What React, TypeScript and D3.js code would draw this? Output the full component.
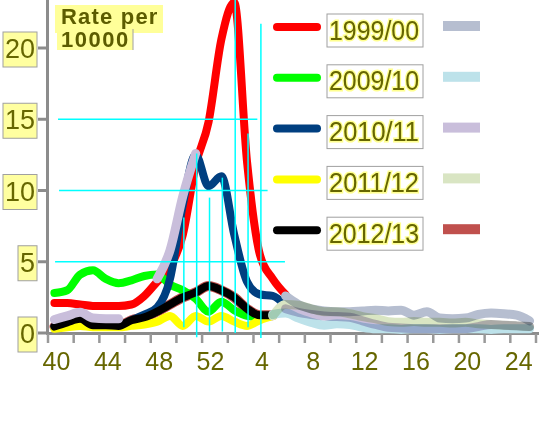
import React from 'react';
import * as d3 from 'd3';

// weeks of the season, week 40 to week 25 of the next year
const weeks = [40, 41, 42, 43, 44, 45, 46, 47, 48, 49, 50, 51, 52, 1, 2, 3, 4, 5, 6, 7, 8, 9, 10, 11, 12, 13, 14, 15, 16, 17, 18, 19, 20, 21, 22, 23, 24, 25];
const weekLabels = [40, 44, 48, 52, 4, 8, 12, 16, 20, 24];
const yTicks = [0, 5, 10, 15, 20];
const seasons = ['1999/00', '2009/10', '2010/11', '2011/12', '2012/13'];
const _ = null;

// main series (rate per 10000)
const rate9900 = [2.1, 2.1, 2.0, 1.9, 1.9, 1.9, 2.0, 2.6, 3.6, 4.6, 6.9, 11.8, 14.8, 20.6, 23.2, 12.0, 5.5, 3.8, 2.7];
const rate0910 = [2.8, 3.0, 4.1, 4.4, 3.8, 3.5, 3.7, 4.0, 4.1, 3.4, 3.0, 2.4, 1.5, 2.2, 1.6, 1.2, 1.1];
const rate1011 = [0.45, 0.75, 1.0, 0.55, 0.55, 0.5, 0.9, 1.3, 1.8, 3.8, 9.0, 12.5, 10.3, 11.0, 6.9, 3.6, 2.7, 2.6, 1.9];
const rate1112 = [0.3, 0.4, 0.5, 0.4, 0.4, 0.4, 0.5, 0.6, 0.8, 1.2, 0.5, 1.2, 0.8, 1.2, 0.8, 0.5, 0.9, 1.2];
const rate1213 = [0.45, 0.75, 1.0, 0.55, 0.55, 0.5, 0.9, 1.1, 1.5, 2.0, 2.5, 2.85, 3.3, 3.0, 2.5, 1.7, 1.25, 1.25];

// faded background series
const faded1 = [_, _, _, _, _, _, _, _, _, _, _, _, _, _, _, _, _, _, 2.6, 2.0, 1.7, 1.55, 1.5, 1.5, 1.55, 1.6, 1.55, 1.6, 1.25, 1.5, 1.05, 1.0, 1.05, 1.3, 1.4, 1.35, 1.25, 0.85];
const faded2 = [_, _, _, _, _, _, _, _, _, _, _, _, _, _, _, _, _, 1.3, 1.4, 1.05, 0.75, 0.55, 0.65, 0.6, 0.4, 0.3, 0.3, 0.25, 0.3, 0.3, 0.25, 0.3, 0.3, 0.3, 0.25, 0.3, 0.3, 0.3];
const faded3 = [0.95, 1.2, 1.45, 1.05, 1.0, 1.0, _, _, 3.8, 5.8, 9.6, 12.6, _, _, _, _, _, _, 1.7, 1.45, 1.3, 1.2, 1.15, 1.1, 0.85, 0.6, 0.4, 0.35, 0.3, 0.3, 0.3, 0.3, 0.3, 0.45, 0.6, 0.55, 0.5, 0.45];
const faded4 = [_, _, _, _, _, _, _, _, _, _, _, _, _, _, _, _, _, 1.2, 2.0, 1.95, 1.7, 1.5, 1.5, 1.35, 1.15, 1.0, 0.8, 0.75, 0.8, 0.75, 0.75, 0.7, 0.75, 0.65, 0.6, 0.55, 0.5, 0.45];
const faded5 = [0.45, 0.75, 1.0, 0.55, 0.55, 0.5, 0.9, 1.1, 1.5, 2.0, 2.5, 2.85, 3.3, 3.0, 2.5, 1.7, 1.25, 1.25];

const mainSeries = [rate9900, rate0910, rate1011, rate1112, rate1213];
const mainColors = ['#ff0000', '#00ff00', '#003f80', '#ffff00', '#000000'];
const fadedColors = ['#b6bed0', '#bde2ea', '#c9bedb', '#d9e5c3', '#c0504d'];

// cyan construction lines left in the picture (week, from value, to value)
const vGuides: [number, number, number][] = [[50, 0.4, 8.1], [51, -0.3, 12.6], [52, 0.1, 9.5], [1, 0.1, 10.9], [2, 0, 23.4], [3, 0.4, 14], [4, -0.35, 21.7]];
// (value, from week index, to week index)
const hGuides: [number, number, number][] = [[15, 0.28, 15.8], [10, 0.36, 16.6], [5, 0.05, 17.95]];

const font = "'Liberation Sans', Arial, sans-serif";
const olive = '#666600';

export default function App() {
  const W = 555;
  const H = 444;

  const x = d3.scaleBand<string>().domain(weeks.map(String)).range([48, 536]);
  const cx = (i: number) => (x(String(weeks[i])) ?? 0) + x.bandwidth() / 2;
  const xi = d3.scaleLinear().domain([0, weeks.length - 1]).range([cx(0), cx(weeks.length - 1)]);
  const y = d3.scaleLinear().domain([0, 20]).range([333, 48]);

  const line = d3.line<number | null>()
    .defined(v => v != null)
    .x((_v, i) => cx(i))
    .y(v => y(v as number))
    .curve(d3.curveMonotoneX);

  const xTickIdx = d3.range(0, weeks.length + 1, 2);

  return (
    <svg width={W} height={H} style={{ position: 'absolute', left: 0, top: 0, background: '#fff' }}>
      {/* axes */}
      <line x1={47.5} x2={47.5} y1={0} y2={335} stroke="#8c8c8c" strokeWidth={3} />
      {yTicks.map(t => (
        <line key={t} x1={38} x2={47} y1={y(t)} y2={y(t)} stroke="#8c8c8c" strokeWidth={3} />
      ))}
      <line x1={46} x2={539} y1={333.5} y2={333.5} stroke="#8c8c8c" strokeWidth={3} />
      {xTickIdx.map(k => (
        <line key={k} x1={48 + k * x.step()} x2={48 + k * x.step()} y1={334} y2={343} stroke="#999" strokeWidth={2.5} />
      ))}

      {/* reddish halo under the 2012/13 line */}
      <path d={line(faded5) ?? ''} fill="none" stroke={fadedColors[4]} strokeWidth={10} strokeLinecap="round" strokeLinejoin="round" />

      {/* main series */}
      {mainSeries.map((s, i) => (
        <path key={i} d={line(s) ?? ''} fill="none" stroke={mainColors[i]} strokeWidth={8} strokeLinecap="round" strokeLinejoin="round" />
      ))}

      {/* faded series */}
      <g style={{ isolation: 'isolate' }}>
        {[faded1, faded2, faded3, faded4].map((s, i) => (
          <path key={i} d={line(s) ?? ''} fill="none" stroke={fadedColors[i]} strokeWidth={9} strokeLinecap="round" strokeLinejoin="round" style={{ mixBlendMode: 'multiply' }} />
        ))}
      </g>

      {/* cyan guides */}
      {vGuides.map(([w, a, b], i) => {
        const px = cx(weeks.indexOf(w)) + 1;
        return <line key={'v' + i} x1={px} x2={px} y1={y(a)} y2={y(b)} stroke="#00ffff" strokeWidth={1.5} />;
      })}
      {hGuides.map(([v, a, b], i) => (
        <line key={'h' + i} x1={xi(a)} x2={xi(b)} y1={y(v)} y2={y(v)} stroke="#00ffff" strokeWidth={1.5} />
      ))}

      {/* y tick labels */}
      {yTicks.map(t => {
        const label = String(t);
        const w = 4 + 15 * label.length;
        return (
          <g key={t}>
            <rect x={37 - w} y={y(t) - 16} width={w} height={35} fill="#ffffa0" stroke="#a0a0a0" strokeWidth={1} />
            <text x={35} y={y(t) + 10} textAnchor="end" fontFamily={font} fontSize={27} fill={olive}>{label}</text>
          </g>
        );
      })}

      {/* x tick labels */}
      {weekLabels.map(w => (
        <text key={w} x={cx(weeks.indexOf(w)) + 2} y={370} textAnchor="middle" fontFamily={font} fontSize={25} fill={olive}>{w}</text>
      ))}

      {/* axis title */}
      <rect x={55} y={5} width={108} height={28} fill="#ffff99" />
      <rect x={57} y={29} width={76} height={21} fill="#ffff99" />
      <line x1={133} x2={133} y1={29} y2={50} stroke="#a0a0a0" strokeWidth={1} />
      <text x={61} y={23.5} fontFamily={font} fontWeight="bold" fontSize={22} letterSpacing={1.2} fill="#5c5c00">Rate per</text>
      <text x={61} y={47} fontFamily={font} fontWeight="bold" fontSize={22} letterSpacing={1.5} fill="#5c5c00">10000</text>

      {/* legend */}
      {seasons.map((name, i) => {
        const ly = 27 + i * 50.8;
        return (
          <g key={name}>
            <line x1={277} x2={317} y1={ly} y2={ly} stroke={mainColors[i]} strokeWidth={8} strokeLinecap="round" />
            <rect x={327} y={ly - 13} width={96} height={33} fill="#fff" stroke="#a0a0a0" strokeWidth={1} />
            <text x={329} y={ly + 12.5} fontFamily={font} fontSize={28} textLength={90} lengthAdjust="spacingAndGlyphs"
              fill={olive} stroke="#ffff90" strokeWidth={3} paintOrder="stroke">{name}</text>
            <rect x={443} y={ly - 6} width={37} height={10} fill={fadedColors[i]} />
          </g>
        );
      })}
    </svg>
  );
}
